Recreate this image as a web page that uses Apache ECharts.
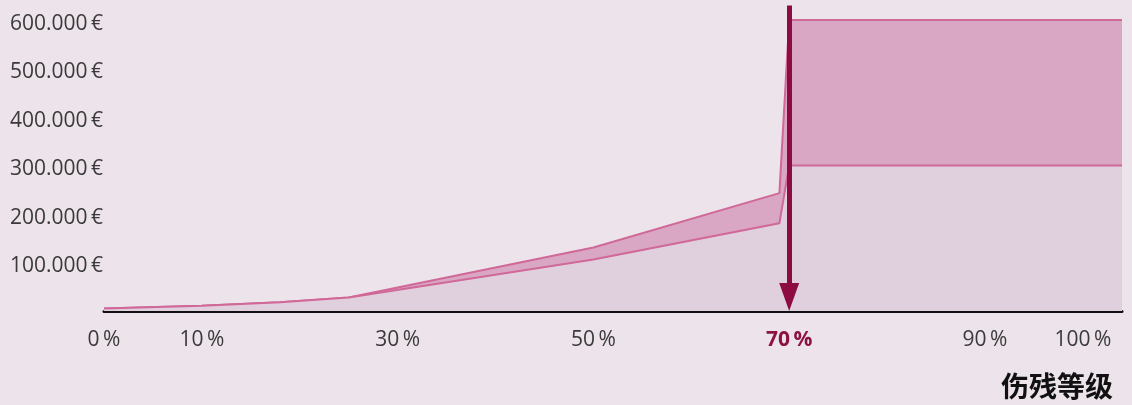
<!DOCTYPE html>
<html>
<head>
<meta charset="utf-8">
<script src="https://cdn.jsdelivr.net/npm/echarts@6/dist/echarts.min.js"></script>
<style>
html,body{margin:0;padding:0;background:#ede3ea;}
#c{width:1132px;height:405px;}
</style>
</head>
<body>
<div id="c"></div>
<script>
// Disability degree (%) on x, payout (€) on y
const degrees   = [0, 10, 18, 25, 50, 69, 70, 104];
const bestVals  = [5000, 11000, 18000, 28000, 131000, 243000, 600000, 600000];
const smartVals = [5000, 11000, 18000, 28000, 106000, 181000, 300000, 300000];
const xTickLabels = [0, 10, 30, 50, 70, 90, 100];
const yTickLabels = [100000, 200000, 300000, 400000, 500000, 600000];
const markDegree = 70;

const bestData = degrees.map((d, i) => [d, bestVals[i]]);
const smartData = degrees.map((d, i) => [d, smartVals[i]]);

const chart = echarts.init(document.getElementById('c'), null, {renderer: 'canvas'});
chart.setOption({
  animation: false,
  backgroundColor: '#ede3ea',
  grid: {left: 104, right: 10, top: 5.5, bottom: 94, containLabel: false},
  xAxis: {
    type: 'value', min: 0, max: 104, interval: 10,
    axisLine: {show: true, lineStyle: {color: '#111', width: 3}},
    axisTick: {show: false},
    splitLine: {show: false},
    axisLabel: {
      margin: 19,
      fontFamily: 'Open Sans', fontSize: 21, color: '#3a3a3a',
      formatter: v => {
        if (xTickLabels.indexOf(v) < 0) return '';
        if (v === markDegree) return '{hl|' + v + '\u2009%}';
        return v + '\u2009%';
      },
      rich: {hl: {fontFamily: 'Open Sans', fontSize: 21, fontWeight: 'bold', color: '#8c1243'}}
    }
  },
  yAxis: {
    type: 'value', min: 0, max: 630000, interval: 100000,
    axisLine: {show: false}, axisTick: {show: false}, splitLine: {show: false},
    axisLabel: {
      align: 'left', margin: 94,
      fontFamily: 'Open Sans', fontSize: 21, color: '#3a3a3a',
      formatter: v => yTickLabels.indexOf(v) < 0 ? '' : '{t|' + (v / 1000) + '.000\u2009€}',
      rich: {t: {fontFamily: 'Open Sans', fontSize: 21, color: '#3a3a3a', lineHeight: 21, padding: [7, 0, 0, 0]}}
    }
  },
  series: [
    {
      name: 'Best', type: 'line', data: bestData, symbol: 'none',
      lineStyle: {color: '#d06898', width: 2},
      areaStyle: {color: '#d9a6c4', opacity: 1},
      z: 2
    },
    {
      name: 'Smart', type: 'line', data: smartData, symbol: 'none',
      lineStyle: {color: '#d06898', width: 2},
      areaStyle: {color: '#e0d0de', opacity: 1},
      z: 3,
      markLine: {
        silent: true, animation: false,
        symbol: ['none', 'triangle'], symbolSize: [20, 28],
        label: {show: false},
        lineStyle: {color: '#8c0c42', width: 5, type: 'solid'},
        data: [[{coord: [markDegree, 630000]}, {coord: [markDegree, 29000]}]]
      }
    }
  ],
  graphic: [
    {type: 'text', right: 31, top: 36, style: {text: 'Best', fontFamily: 'DejaVu Serif', fontWeight: 'bold', fontSize: 20, fill: '#111'}},
    {type: 'text', right: 30, top: 180, style: {text: 'Smart', fontFamily: 'DejaVu Serif', fontWeight: 'bold', fontSize: 20, fill: '#111'}},
    {type: 'text', right: 19, top: 372, style: {text: '伤残等级', fontFamily: 'Noto Sans CJK SC', fontWeight: 'bold', fontSize: 28, fill: '#111'}}
  ]
});
</script>
</body>
</html>
